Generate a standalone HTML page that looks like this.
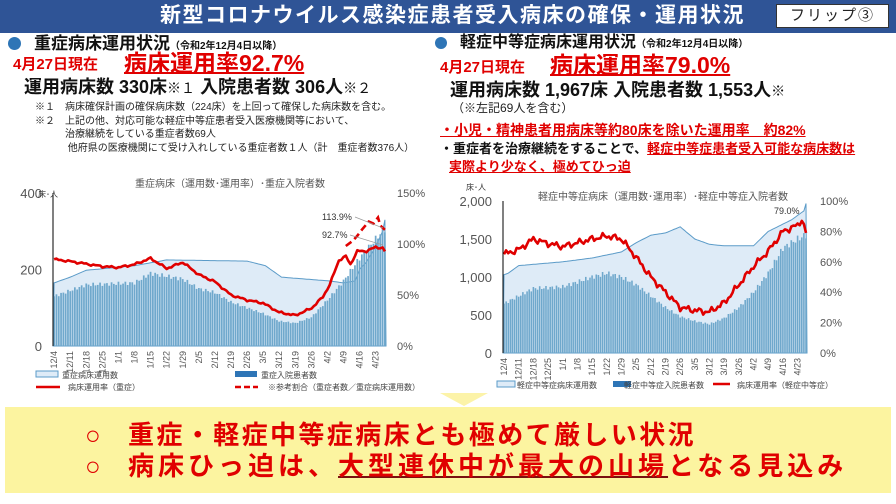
<!DOCTYPE html>
<html><head><meta charset="utf-8">
<style>
*{margin:0;padding:0;box-sizing:border-box}
body{width:896px;height:504px;overflow:hidden;background:#fff;font-family:"Liberation Sans","Noto Sans CJK JP",sans-serif;position:relative}
.a{position:absolute;white-space:nowrap;line-height:1}
.b{font-weight:bold}
.r{color:#E00000}
.u{text-decoration:underline;text-decoration-thickness:2px}
</style></head><body>
<div class="a" style="left:0;top:0;width:896px;height:33px;background:#2F5496"></div>
<div class="a b" style="left:160px;top:5px;font-size:21px;color:#fff;letter-spacing:1.5px">新型コロナウイルス感染症患者受入病床の確保・運用状況</div>
<div class="a" style="left:776px;top:4px;width:113px;height:24px;background:#fff;border:1px solid #333;font-size:15px;text-align:center;padding-top:3px;color:#222;letter-spacing:2px">フリップ③</div>

<div class="a" style="left:8px;top:37px;width:13px;height:13px;border-radius:50%;background:#2E75B6"></div>
<div class="a b" style="left:34px;top:35px;font-size:17px;color:#111">重症病床運用状況<span style="font-size:10px">（令和2年12月4日以降）</span></div>
<div class="a b r" style="left:13px;top:57px;font-size:15px">4月27日現在</div>
<div class="a b r u" style="left:124px;top:52px;font-size:23px">病床運用率92.7%</div>
<div class="a b" style="left:24px;top:78px;font-size:18px;color:#111">運用病床数 330床<span style="font-weight:normal;font-size:14px">※１</span> 入院患者数 306人<span style="font-weight:normal;font-size:14px">※２</span></div>
<div class="a" style="left:35px;top:101px;font-size:10px;color:#222;line-height:13.5px">※１　病床確保計画の確保病床数（224床）を上回って確保した病床数を含む。<br>※２　上記の他、対応可能な軽症中等症患者受入医療機関等において、<br>　　　治療継続をしている重症者数69人<br>　　　 他府県の医療機関にて受け入れしている重症者数１人（計　重症者数376人）</div>

<div class="a" style="left:435px;top:37px;width:12px;height:12px;border-radius:50%;background:#2E75B6"></div>
<div class="a b" style="left:460px;top:35px;font-size:16px;color:#111">軽症中等症病床運用状況<span style="font-size:10px">（令和2年12月4日以降）</span></div>
<div class="a b r" style="left:440px;top:60px;font-size:15px">4月27日現在</div>
<div class="a b r u" style="left:550px;top:54px;font-size:23px">病床運用率79.0%</div>
<div class="a b" style="left:450px;top:81px;font-size:18px;color:#111">運用病床数 1,967床  入院患者数  1,553人<span style="font-weight:normal;font-size:14px">※</span></div>
<div class="a" style="left:452px;top:102px;font-size:12px;color:#222">（※左記69人を含む）</div>
<div class="a b r u" style="left:440px;top:123px;font-size:14px;text-decoration-thickness:1px">・小児・精神患者用病床等約80床を除いた運用率　約82%</div>
<div class="a b" style="left:440px;top:142px;font-size:13px;color:#111">・重症者を治療継続をすることで、<span class="r u" style="text-decoration-thickness:1px">軽症中等症患者受入可能な病床数は</span></div>
<div class="a b r u" style="left:449px;top:160px;font-size:13px;text-decoration-thickness:1px">実際より少なく、極めてひっ迫</div>

<svg class="a" style="left:0;top:0" width="896" height="504" id="s" font-family="Liberation Sans, Noto Sans CJK JP, sans-serif"></svg>

<div class="a" style="left:440px;top:393px;width:0;height:0;border-left:24px solid transparent;border-right:24px solid transparent;border-top:13px solid #FCF3A8"></div>
<div class="a" style="left:5px;top:407px;width:886px;height:86px;background:#FCF4A0"></div>
<div class="a b r" style="left:85px;top:422px;font-size:26px">○</div>
<div class="a b r" style="left:128px;top:422px;font-size:26px;letter-spacing:2.4px">重症・軽症中等症病床とも極めて厳しい状況</div>
<div class="a b r" style="left:85px;top:453px;font-size:26px">○</div>
<div class="a b r" style="left:128px;top:453px;font-size:26px;letter-spacing:4px">病床ひっ迫は、<span style="text-decoration:underline;text-decoration-color:#7a1010;text-decoration-thickness:2px">大型連休中が最大の山場</span>となる見込み</div>

<script>
const s=document.getElementById('s');let h='';
function interp(k,d){for(let i=0;i<k.length-1;i++){if(d>=k[i][0]&&d<=k[i+1][0]){const t=(d-k[i][0])/(k[i+1][0]-k[i][0]);return k[i][1]+t*(k[i+1][1]-k[i][1]);}}return k[k.length-1][1];}
const N=145;
const labels=['12/4','12/11','12/18','12/25','1/1','1/8','1/15','1/22','1/29','2/5','2/12','2/19','2/26','3/5','3/12','3/19','3/26','4/2','4/9','4/16','4/23'];
function chart(o){
 const X=d=>o.x0+(d+0.5)*(o.x1-o.x0)/N, Y=v=>o.y1-(v/o.lmax)*(o.y1-o.y0), YR=v=>o.y1-(v/o.rmax)*(o.y1-o.y0);
 let p=`M${o.x0},${o.y1}`;for(let d=0;d<N;d++)p+=` L${X(d).toFixed(1)},${Y(interp(o.bed,d)).toFixed(1)}`;p+=` L${o.x1},${o.y1}Z`;
 h+=`<path d="${p}" fill="#DEEBF7" stroke="#5B9BC8" stroke-width="1"/>`;
 const bw=(o.x1-o.x0)/N*0.75;
 for(let d=0;d<N;d++){const v=interp(o.pat,d)*(1+0.03*Math.sin(d*2.3));h+=`<rect x="${(X(d)-bw/2).toFixed(1)}" y="${Y(v).toFixed(1)}" width="${bw.toFixed(2)}" height="${(o.y1-Y(v)).toFixed(1)}" fill="#6FA8CC"/>`;}
 let q='';for(let d=0;d<N;d++){const v=interp(o.rate,d)+o.nz*Math.sin(d*1.7)*Math.cos(d*0.6);q+=(d?' L':'M')+X(d).toFixed(1)+','+YR(v).toFixed(1);}
 h+=`<path d="${q}" fill="none" stroke="#E00000" stroke-width="2.6" stroke-linejoin="round"/>`;
 if(o.dash){let r='';o.dash.forEach((e,i)=>{r+=(i?' L':'M')+X(e[0]).toFixed(1)+','+YR(e[1]).toFixed(1)});h+=`<path d="${r}" fill="none" stroke="#E00000" stroke-width="2.6" stroke-dasharray="7,4"/>`;}
 h+=`<line x1="${o.x0}" y1="${o.y0}" x2="${o.x0}" y2="${o.y1}" stroke="#000" stroke-width="1"/>`;
 o.lt.forEach((t,i)=>{const v=i*o.lmax/(o.lt.length-1);h+=`<text x="${o.lx}" y="${Y(v)+5}" font-size="13" fill="#555" text-anchor="end">${t}</text>`;});
 o.rt.forEach((t,i)=>{const v=i*o.rmax/(o.rt.length-1);h+=`<text x="${o.rx}" y="${YR(v)+4}" font-size="11" fill="#555">${t}</text>`;});
 labels.forEach((t,i)=>{const x=X(i*7)+3;h+=`<text transform="translate(${x.toFixed(1)},${o.y1+5}) rotate(-90)" font-size="9" fill="#555" text-anchor="end">${t}</text>`;});
 h+=`<text x="${o.tx}" y="${o.ty}" font-size="10" fill="#555" text-anchor="middle">${o.title}</text>`;
 h+=`<text x="${o.ux}" y="${o.uy}" font-size="8" fill="#333">床･人</text>`;
}
chart({x0:53,x1:386,y0:193,y1:346,lmax:400,rmax:150,lx:42,rx:397,nz:1.2,
 lt:['0','200','400'],rt:['0%','50%','100%','150%'],title:'重症病床（運用数･運用率）･重症入院者数',tx:230,ty:187,ux:38,uy:197,
 bed:[[0,165],[7,180],[14,198],[35,210],[49,225],[84,222],[92,210],[99,180],[120,170],[126,165],[131,170],[133,200],[136,220],[140,260],[143,300],[144,330]],
 pat:[[0,130],[14,160],[35,165],[42,190],[56,175],[63,150],[70,140],[77,115],[84,100],[91,85],[98,65],[105,60],[112,75],[119,120],[126,170],[133,230],[140,280],[144,306]],
 rate:[[0,85],[7,83],[21,78],[28,77],[35,80],[42,86],[49,76],[56,82],[63,70],[70,63],[77,50],[84,45],[91,42],[98,33],[105,30],[112,37],[117,48],[120,60],[124,84],[127,88],[129,80],[132,93],[136,93],[140,97],[143,96],[144,92.7]],
 dash:[[127,98],[130,103],[132,108],[134,114],[137,122],[139,120],[141,126],[142,118],[144,113.9]]});
chart({x0:503,x1:807,y0:201,y1:353,lmax:2000,rmax:100,lx:492,rx:820,nz:2.5,
 lt:['0','500','1,000','1,500','2,000'],rt:['0%','20%','40%','60%','80%','100%'],title:'軽症中等症病床（運用数･運用率）･軽症中等症入院者数',tx:663,ty:200,ux:466,uy:190,
 bed:[[0,1030],[2,1050],[7,1150],[28,1200],[42,1250],[56,1330],[63,1450],[70,1550],[77,1580],[84,1660],[91,1500],[98,1430],[105,1410],[119,1410],[126,1600],[137,1750],[143,1870],[144,1967]],
 pat:[[0,650],[14,850],[28,870],[42,1000],[49,1050],[56,1000],[63,900],[70,750],[77,600],[84,480],[91,420],[98,380],[105,460],[112,600],[119,800],[126,1050],[133,1380],[140,1500],[144,1553]],
 rate:[[0,65],[7,68],[14,75],[21,72],[28,70],[42,75],[49,77],[56,75],[63,63],[70,50],[77,40],[84,30],[91,28],[98,27],[105,33],[112,45],[119,57],[126,67],[133,80],[140,84],[142,88],[144,79]]});
h+=`<text x="322" y="220" font-size="9" fill="#333">113.9%</text><text x="322" y="238" font-size="9" fill="#333">92.7%</text>`;
h+=`<line x1="355" y1="217" x2="383" y2="228" stroke="#999" stroke-width="0.7"/><line x1="350" y1="235" x2="383" y2="245" stroke="#999" stroke-width="0.7"/>`;
h+=`<text x="774" y="214" font-size="9" fill="#333">79.0%</text>`;
h+=`<rect x="36" y="371" width="22" height="6" fill="#DEEBF7" stroke="#5B9BC8"/><text x="62" y="378" font-size="8" fill="#444">重症病床運用数</text>`;
h+=`<rect x="235" y="371" width="22" height="6" fill="#2E75B6"/><text x="261" y="378" font-size="8" fill="#444">重症入院患者数</text>`;
h+=`<line x1="36" y1="387" x2="60" y2="387" stroke="#E00000" stroke-width="2.5"/><text x="68" y="390" font-size="8" fill="#444">病床運用率（重症）</text>`;
h+=`<line x1="235" y1="387" x2="258" y2="387" stroke="#E00000" stroke-width="2.5" stroke-dasharray="6,3"/><text x="268" y="390" font-size="8" fill="#444">※参考割合（重症者数／重症病床運用数）</text>`;
h+=`<rect x="497" y="381" width="18" height="6" fill="#DEEBF7" stroke="#5B9BC8"/><text x="517" y="388" font-size="8" fill="#444">軽症中等症病床運用数</text>`;
h+=`<rect x="613" y="381" width="18" height="6" fill="#2E75B6"/><text x="624" y="388" font-size="8" fill="#444">軽症中等症入院患者数</text>`;
h+=`<line x1="713" y1="384" x2="730" y2="384" stroke="#E00000" stroke-width="2.5"/><text x="737" y="388" font-size="8" fill="#444">病床運用率（軽症中等症）</text>`;
s.innerHTML=h;
</script>
</body></html>
